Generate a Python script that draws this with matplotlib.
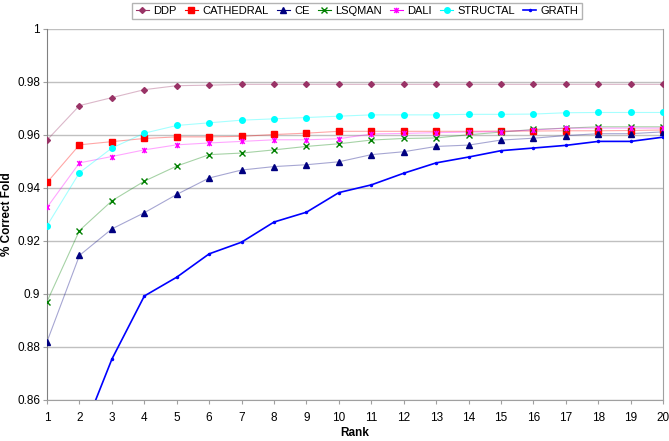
import matplotlib.pyplot as plt
from matplotlib.path import Path

plt.rcParams['font.family'] = ['Liberation Sans', 'DejaVu Sans']

ranks = list(range(1, 21))

ddp = [0.958, 0.971, 0.974, 0.977, 0.9785, 0.9787, 0.979, 0.979, 0.979, 0.979,
       0.979, 0.979, 0.979, 0.979, 0.979, 0.979, 0.979, 0.979, 0.979, 0.979]
cathedral = [0.942, 0.9562, 0.9574, 0.9586, 0.9592, 0.9592, 0.9594, 0.9601, 0.9606, 0.9613,
             0.9613, 0.9613, 0.9613, 0.9613, 0.9614, 0.9614, 0.9615, 0.9615, 0.9616, 0.9618]
ce = [0.882, 0.9145, 0.9245, 0.9306, 0.9375, 0.9437, 0.9467, 0.948, 0.9487, 0.9498,
      0.9525, 0.9536, 0.9556, 0.9561, 0.958, 0.9587, 0.9597, 0.9604, 0.9604, 0.9611]
lsqman = [0.8971, 0.9239, 0.9351, 0.9425, 0.9482, 0.9525, 0.9531, 0.9543, 0.9556, 0.9566,
          0.958, 0.9586, 0.9588, 0.960, 0.961, 0.962, 0.9625, 0.963, 0.963, 0.963]
dali = [0.9326, 0.9494, 0.9518, 0.9543, 0.9562, 0.9569, 0.9575, 0.9581, 0.9581, 0.9585,
        0.9603, 0.9605, 0.9608, 0.961, 0.9612, 0.9618, 0.9625, 0.9625, 0.9625, 0.9625]
structal = [0.9257, 0.9457, 0.955, 0.9606, 0.9635, 0.9645, 0.9655, 0.966, 0.9665, 0.967,
            0.9675, 0.9675, 0.9675, 0.9677, 0.9677, 0.9678, 0.9683, 0.9684, 0.9684, 0.9684]
grath = [0.82, 0.8446, 0.8754, 0.8992, 0.9063, 0.9151, 0.9195, 0.9271, 0.9308, 0.9382,
         0.9411, 0.9455, 0.9494, 0.9516, 0.954, 0.955, 0.956, 0.9575, 0.9575, 0.9591]

# Excel-like "star" marker: an x with a vertical stroke
star = Path([(-1, -1), (1, 1), (-1, 1), (1, -1), (0, -1.2), (0, 1.2)],
            [Path.MOVETO, Path.LINETO, Path.MOVETO, Path.LINETO, Path.MOVETO, Path.LINETO])

fig = plt.figure(figsize=(6.69, 4.41), dpi=100)
ax = fig.add_axes([0.0703, 0.093, 0.921, 0.842])

series = [
    ("DDP", ddp, "#993366", "D", 3.0),
    ("CATHEDRAL", cathedral, "#FF0000", "s", 3.8),
    ("CE", ce, "#000080", "^", 4.0),
    ("LSQMAN", lsqman, "#008000", "x", 3.8),
    ("DALI", dali, "#FF00FF", star, 4.0),
    ("STRUCTAL", structal, "#00FFFF", "o", 4.0),
]

handles = []
for name, vals, col, mk, ms in series:
    ax.plot(ranks, vals, color=col, alpha=0.35, lw=0.8, zorder=2)
    ax.plot(ranks, vals, ls="none", marker=mk, ms=ms, color=col,
            markeredgecolor=col, mew=1.0, zorder=3)
    h, = ax.plot([], [], color=col, lw=0.8, marker=mk, ms=ms, mew=1.0, label=name)
    handles.append(h)

h, = ax.plot(ranks, grath, color="#0000FF", lw=1.2, marker="o", ms=1.5, label="GRATH", zorder=4)
handles.append(h)

ax.set_xlim(1, 20)
ax.set_ylim(0.86, 1.0)
ax.set_xticks(ranks)
ax.set_yticks([0.86, 0.88, 0.9, 0.92, 0.94, 0.96, 0.98, 1.0])
ax.set_yticklabels(["0.86", "0.88", "0.9", "0.92", "0.94", "0.96", "0.98", "1"])
ax.grid(axis="y", color="#c0c0c0", lw=1.0, zorder=0)
ax.set_axisbelow(True)
for s in ax.spines.values():
    s.set_color("#a0a0a0")
ax.spines["left"].set_color("#808080")
ax.spines["top"].set_visible(False)
ax.tick_params(axis="both", labelsize=8.5, color="#a0a0a0", length=3)
ax.tick_params(axis="x", pad=6)
ax.tick_params(axis="y", pad=2)

ax.set_xlabel("Rank", fontsize=8.5, fontweight="bold", labelpad=2)
ax.set_ylabel("% Correct Fold", fontsize=8.5, fontweight="bold")
ax.yaxis.set_label_coords(-0.056, 0.5)

fig.legend(handles=handles, loc="center", bbox_to_anchor=(0.534, 0.975), ncol=7,
           fontsize=8, frameon=True, fancybox=False, edgecolor="#a0a0a0",
           handlelength=1.2, handletextpad=0.4, columnspacing=0.7, borderpad=0.3)

fig.savefig("out.png", dpi=100)
